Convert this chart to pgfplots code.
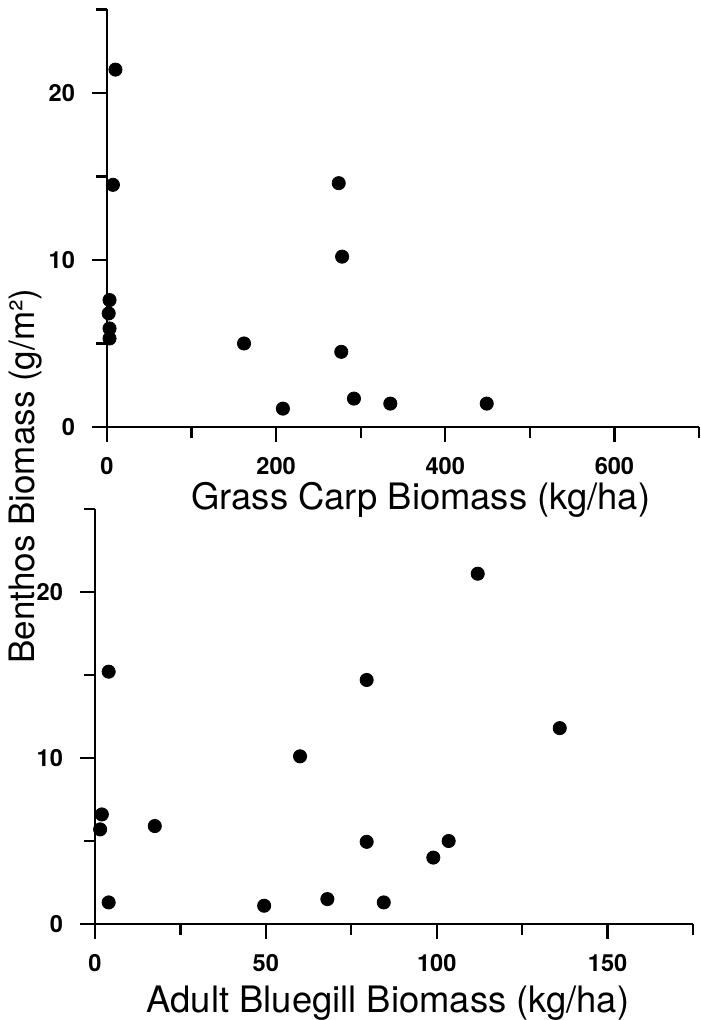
\documentclass[border=0pt]{standalone}
\usepackage{fontspec}
\setmainfont{TeX Gyre Heros}
\usepackage{pgfplots}
\pgfplotsset{compat=1.18}
\begin{document}
\begin{tikzpicture}
\useasboundingbox (0pt,0pt) rectangle (350pt,510pt);
\pgfplotsset{myax/.style={
  scale only axis,
  axis x line*=bottom, axis y line*=left,
  tick align=outside,
  axis line style={line width=1.2pt},
  every tick/.style={line width=1.1pt, black},
  major tick length=7.5pt, minor tick length=5.5pt,
  ymin=0, ymax=25, ytick={0,10,20}, minor ytick={5,15,25},
  tick label style={font=\fontsize{11.8}{13}\selectfont\bfseries},
  xticklabel style={yshift=-4pt},
  yticklabel style={xshift=-5pt},
  /pgf/number format/assume math mode=true,
  label style={font=\fontsize{18.2}{21}\selectfont},
  clip=false,
}}
\begin{axis}[myax, at={(53.5pt,296.5pt)}, anchor=south west,
  width=296pt, height=208.75pt,
  xmin=0, xmax=700, xtick={0,200,400,600}, minor xtick={100,300,500,700},
  xlabel={Grass Carp Biomass (kg/ha)},
  xlabel style={at={(axis description cs:0.53,0)}, anchor=base, yshift=-41.5pt}]
\addplot[only marks, mark=*, mark size=3.3pt, black, mark options={fill=black, draw=black}] coordinates {(10,21.4) (7,14.5) (3,7.6) (2,6.8) (3,5.9) (3,5.3) (162,5.0) (208,1.1) (274,14.6) (278,10.2) (277,4.5) (292,1.7) (335,1.4) (449,1.4)};
\end{axis}
\begin{axis}[myax, at={(47.5pt,48pt)}, anchor=south west,
  width=299pt, height=207.5pt,
  xmin=0, xmax=175, xtick={0,50,100,150}, minor xtick={25,75,125,175},
  xlabel={Adult Bluegill Biomass (kg/ha)},
  xlabel style={at={(axis description cs:0.49,0)}, anchor=base, yshift=-44pt}]
\addplot[only marks, mark=*, mark size=3.3pt, black, mark options={fill=black, draw=black}] coordinates {(4,15.2) (2,6.6) (1.5,5.7) (4,1.3) (17.5,5.9) (60,10.1) (49.5,1.1) (68,1.5) (112,21.1) (79.5,14.7) (136,11.8) (79.5,4.95) (103.5,5.0) (99,4.0) (84.5,1.3)};
\end{axis}
\node[rotate=90, font=\fontsize{17.5}{20}\selectfont] at (13pt,272pt) {Benthos Biomass (g/m²)};
\end{tikzpicture}
\end{document}
